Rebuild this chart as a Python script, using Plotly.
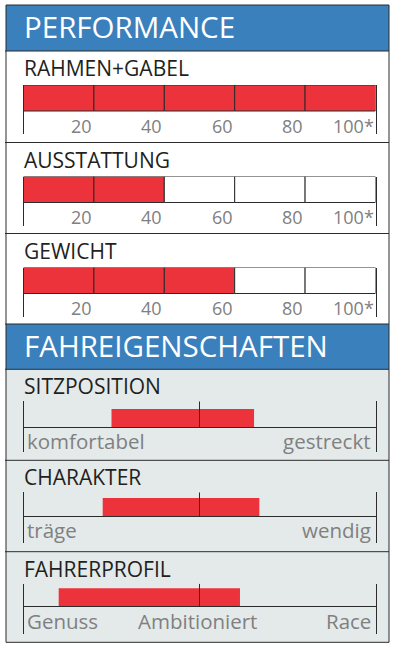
import plotly.graph_objects as go

# ---------------- data ----------------
section_titles = ["PERFORMANCE", "FAHREIGENSCHAFTEN"]

perf_categories = ["RAHMEN+GABEL", "AUSSTATTUNG", "GEWICHT"]
perf_values = [100, 40, 60]
perf_ticks = [20, 40, 60, 80, 100]
perf_ticklabels = ["20", "40", "60", "80", "100*"]

fahr_categories = ["SITZPOSITION", "CHARAKTER", "FAHRERPROFIL"]
fahr_start = [25, 22.5, 10]
fahr_end = [65.5, 67, 61.5]
fahr_scale_positions = [[0, 100], [0, 100], [0, 50, 100]]
fahr_scale_labels = [["komfortabel", "gestreckt"], ["träge", "wendig"],
                     ["Genuss", "Ambitioniert", "Race"]]

# ---------------- geometry / style ----------------
W, H = 395, 645


def px(x):
    return x / W


def py(y):
    return 1 - y / H


FRAME_L, FRAME_R, FRAME_T, FRAME_B = 6, 389, 5, 642.3
AX0, AX1 = 23.5, 375.5
XDOM = [px(AX0), px(AX1)]
DARK = "#2b2b2b"
RED = "#ec323a"
BLUE = "#3a80bd"
PANEL_BG = "#e4eaea"
TEXT = "#231f20"
GRAY = "#808080"
FONT = "Open Sans"
HEAD_SIZE, TITLE_SIZE, TICK_SIZE, LAB_SIZE = 29.5, 21, 18, 20.5
ASC = 0.388  # baseline -> box-centre offset (em)
TEXT_X = 22

headers = [(5, 51), (324, 369.3)]
perf_tops = [51, 142.5, 233.5]
fahr_tops = [369.3, 460.3, 551.7]
fahr_bar_top = [39.7, 37.7, 36.6]
fahr_base = [58, 56, 54.3]
fahr_lab_base = [80, 78, 77.3]

fig = go.Figure()
shapes = []
annotations = []
axes = {}


def text(x, baseline, s, size, color, anchor="left", xref="paper", xshift=0):
    annotations.append(dict(
        x=x, xref=xref, y=py(baseline - ASC * size), yref="paper",
        xanchor=anchor, yanchor="middle", text=s, showarrow=False,
        xshift=xshift, font=dict(family=FONT, size=size, color=color)))


# backgrounds
shapes.append(dict(type="rect", xref="paper", yref="paper", layer="below",
                   x0=px(FRAME_L), x1=px(FRAME_R), y0=py(FRAME_B), y1=py(fahr_tops[0]),
                   fillcolor=PANEL_BG, line=dict(width=0)))
for (ht, hb), title in zip(headers, section_titles):
    shapes.append(dict(type="rect", xref="paper", yref="paper", layer="below",
                       x0=px(FRAME_L), x1=px(FRAME_R), y0=py(hb), y1=py(ht),
                       fillcolor=BLUE, line=dict(width=0)))
    text(px(TEXT_X - 0.5), ht + 32.5, title, HEAD_SIZE, "white")

# separators + frame
for yy in [51, 142.5, 233.5, 324, 369.3, 460.3, 551.7]:
    shapes.append(dict(type="line", xref="paper", yref="paper",
                       x0=px(FRAME_L - 1), x1=px(FRAME_R), y0=py(yy), y1=py(yy),
                       line=dict(color=DARK, width=1)))
shapes.append(dict(type="rect", xref="paper", yref="paper",
                   x0=px(FRAME_L), x1=px(FRAME_R), y0=py(FRAME_B), y1=py(FRAME_T),
                   line=dict(color=DARK, width=1)))

# ---------------- performance panels ----------------
for i, (cat, val) in enumerate(zip(perf_categories, perf_values)):
    n = i + 1
    xs = "x" if n == 1 else f"x{n}"
    ys = "y" if n == 1 else f"y{n}"
    t = perf_tops[i]
    bar_top, bar_bot, tick_bot = t + 34, t + 60, t + 83
    bases, widths, colors = [], [], []
    prev = 0
    for tk in perf_ticks:
        bases.append(prev)
        widths.append(tk - prev)
        colors.append(RED if tk <= val else "white")
        prev = tk
    fig.add_trace(go.Bar(x=widths, base=bases, y=[0.5] * len(widths), width=1,
                         orientation="h", xaxis=xs, yaxis=ys, hoverinfo="skip",
                         showlegend=False,
                         marker=dict(color=colors, line=dict(color=DARK, width=1))))
    unit = bar_bot - bar_top
    axes["xaxis" + ("" if n == 1 else str(n))] = dict(
        domain=XDOM, range=[0, 100], anchor=ys, showgrid=False, zeroline=False,
        showline=False, showticklabels=False, ticks="", fixedrange=True)
    axes["yaxis" + ("" if n == 1 else str(n))] = dict(
        domain=[py(tick_bot), py(bar_top)], range=[-(tick_bot - bar_bot) / unit, 1],
        anchor=xs, showgrid=False, zeroline=False, showline=True, mirror=True,
        linecolor=DARK, linewidth=1, showticklabels=False, ticks="", fixedrange=True)
    text(px(TEXT_X), t + 25.5, cat, TITLE_SIZE, TEXT)
    for tk, lab in zip(perf_ticks, perf_ticklabels):
        text(tk, t + 81.5, lab, TICK_SIZE, GRAY, anchor="right", xref=xs, xshift=0)

# ---------------- fahreigenschaften panels ----------------
for i, cat in enumerate(fahr_categories):
    n = i + 4
    xs, ys = f"x{n}", f"y{n}"
    t = fahr_tops[i]
    vtop, vbot = t + 32, t + 82.5
    bt, bb = t + fahr_bar_top[i], t + fahr_base[i]
    unit = bb - bt
    ymin, ymax = -(vbot - bb) / unit, (bb - vtop) / unit
    fig.add_trace(go.Bar(x=[fahr_end[i] - fahr_start[i]], base=[fahr_start[i]], y=[0.5],
                         width=1, orientation="h", xaxis=xs, yaxis=ys,
                         hoverinfo="skip", showlegend=False,
                         marker=dict(color=RED, line=dict(width=0))))
    fig.add_trace(go.Scatter(x=[50, 50], y=[0, ymax], mode="lines", xaxis=xs, yaxis=ys,
                             hoverinfo="skip", showlegend=False,
                             line=dict(color=DARK, width=1)))
    axes[f"xaxis{n}"] = dict(
        domain=XDOM, range=[0, 100], anchor="free", position=py(bb), showgrid=False,
        zeroline=False, showline=True, linecolor=DARK, linewidth=1,
        showticklabels=False, ticks="", fixedrange=True)
    axes[f"yaxis{n}"] = dict(
        domain=[py(vbot), py(vtop)], range=[ymin, ymax], anchor=xs, showgrid=False,
        zeroline=False, showline=True, mirror=True, linecolor=DARK, linewidth=1,
        showticklabels=False, ticks="", fixedrange=True)
    text(px(TEXT_X), t + 25, cat, TITLE_SIZE, TEXT)
    for pos, lab in zip(fahr_scale_positions[i], fahr_scale_labels[i]):
        if pos == 0:
            text(pos, t + fahr_lab_base[i], lab, LAB_SIZE, GRAY, "left", xs, 1)
        elif pos == 100:
            text(pos, t + fahr_lab_base[i], lab, LAB_SIZE, GRAY, "right", xs, -3)
        else:
            text(pos, t + fahr_lab_base[i], lab, LAB_SIZE, GRAY, "center", xs, -2)

fig.update_layout(
    width=W, height=H, autosize=False,
    margin=dict(l=0, r=0, t=0, b=0, pad=0),
    paper_bgcolor="white", plot_bgcolor="rgba(0,0,0,0)",
    barmode="overlay", showlegend=False,
    font=dict(family=FONT),
    shapes=shapes, annotations=annotations, **axes)

fig.write_html("out.html", config={"displayModeBar": False})
